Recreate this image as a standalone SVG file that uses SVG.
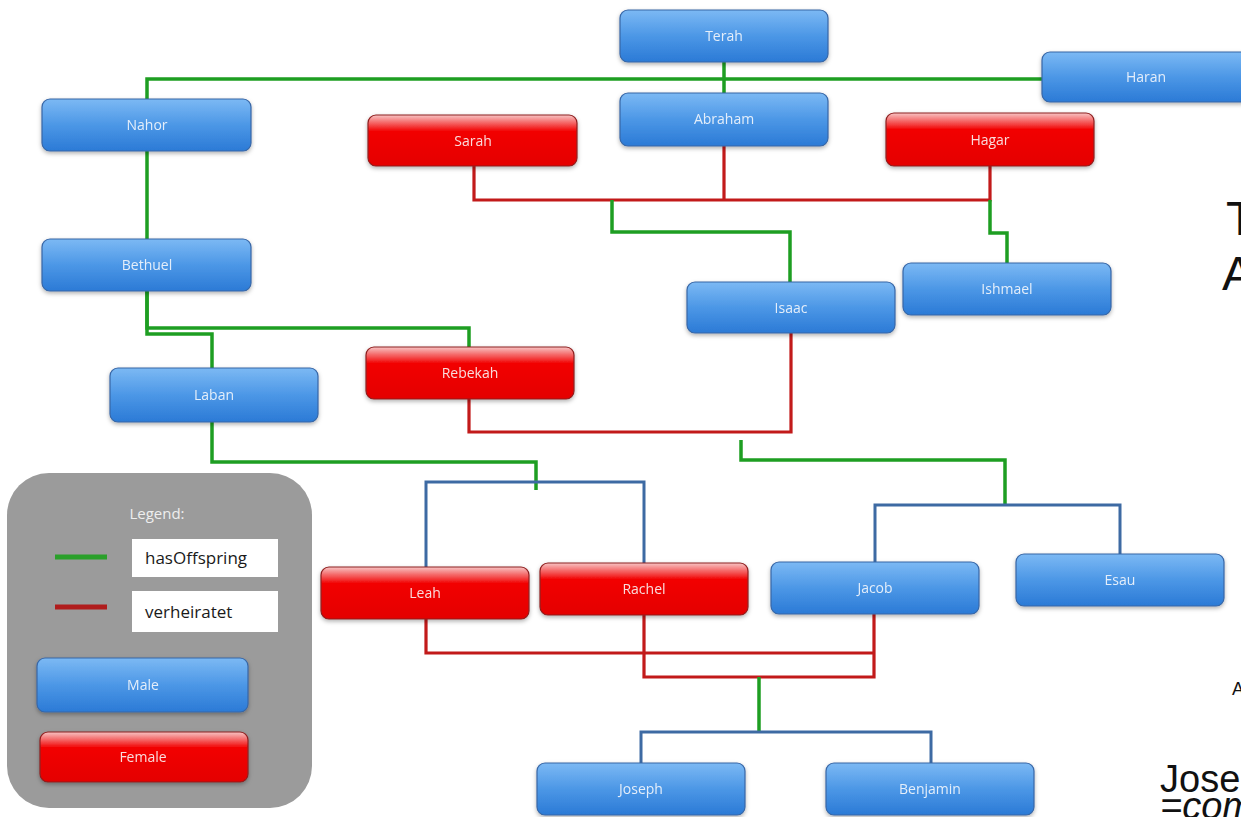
<svg xmlns="http://www.w3.org/2000/svg" width="1241" height="817" viewBox="0 0 1241 817">
<style>
.m rect{fill:url(#gb);stroke:#3766a6;stroke-width:1.2}
.f rect{fill:url(#gr);stroke:#8e1e1e;stroke-width:1.2}
.n{filter:url(#sh)}
.n text{font-family:"Open Sans","DejaVu Sans",sans-serif;font-size:14px;text-anchor:middle}
.m text{fill:#e4eefa}
.f text{fill:#f9dcdc}
.g{stroke:#1e9e22;stroke-width:3.5;fill:none}
.r{stroke:#c21a1a;stroke-width:3.2;fill:none}
.b{stroke:#3d6aa3;stroke-width:3;fill:none}
.big{font-family:"Liberation Sans",Arial,sans-serif;font-size:48px;fill:#111}
.lt{font-family:"Open Sans","DejaVu Sans",sans-serif;font-size:17px;fill:#1a1a1a}
</style>
<defs>
<linearGradient id="gb" x1="0" y1="0" x2="0" y2="1">
<stop offset="0" stop-color="#7cb9f4"/><stop offset="0.5" stop-color="#4c97e6"/><stop offset="1" stop-color="#2b7ad6"/>
</linearGradient>
<linearGradient id="gr" x1="0" y1="0" x2="0" y2="1">
<stop offset="0" stop-color="#f7c4c4"/><stop offset="0.12" stop-color="#f57a7a"/><stop offset="0.32" stop-color="#f20000"/><stop offset="1" stop-color="#e40000"/>
</linearGradient>
<filter id="sh" x="-10%" y="-20%" width="120%" height="160%">
<feDropShadow dx="0" dy="2" stdDeviation="2" flood-color="#000" flood-opacity="0.3"/>
</filter>
</defs>
<rect width="1241" height="817" fill="#ffffff"/>

<g id="connectors">
<path class="g" d="M147,99 V79 H1042 M724,62 V93 M147,151 V239"/>
<path class="r" d="M474,166 V200 H990 V166 M724,146 V200"/>
<path class="g" d="M612,200 V232 H790 V282"/>
<path class="g" d="M990,200 V233 H1007 V263"/>
<path class="g" d="M147,291 V328 H469 V347"/>
<path class="g" d="M147,291 V334 H212 V368"/>
<path class="r" d="M469,399 V432 H791 V333"/>
<path class="g" d="M741,440 V460 H1005 V505"/>
<path class="b" d="M875,562 V505 H1120 V554"/>
<path class="g" d="M212,422 V462 H536 V490"/>
<path class="b" d="M426,567 V482 H644 V563"/>
<path class="r" d="M426,619 V653 H874 M874,614 V677 H644 V615"/>
<path class="g" d="M759,677 V732"/>
<path class="b" d="M641,763 V732 H931 V763"/>
</g>

<g id="terah" class="n m"><rect x="620" y="10" width="208" height="52" rx="8"/><text x="724" y="41">Terah</text></g>
<g id="abraham" class="n m"><rect x="620" y="93" width="208" height="53" rx="8"/><text x="724" y="124">Abraham</text></g>
<g id="haran" class="n m"><rect x="1042" y="52" width="208" height="50" rx="8"/><text x="1146" y="82">Haran</text></g>
<g id="nahor" class="n m"><rect x="42" y="99" width="209" height="52" rx="8"/><text x="147" y="130">Nahor</text></g>
<g id="sarah" class="n f"><rect x="368" y="115" width="209" height="51" rx="8"/><text x="473" y="146">Sarah</text></g>
<g id="hagar" class="n f"><rect x="886" y="113" width="208" height="53" rx="8"/><text x="990" y="145">Hagar</text></g>
<g id="bethuel" class="n m"><rect x="42" y="239" width="209" height="52" rx="8"/><text x="147" y="270">Bethuel</text></g>
<g id="isaac" class="n m"><rect x="687" y="282" width="208" height="51" rx="8"/><text x="791" y="313">Isaac</text></g>
<g id="ishmael" class="n m"><rect x="903" y="263" width="208" height="52" rx="8"/><text x="1007" y="294">Ishmael</text></g>
<g id="rebekah" class="n f"><rect x="366" y="347" width="208" height="52" rx="8"/><text x="470" y="378">Rebekah</text></g>
<g id="laban" class="n m"><rect x="110" y="368" width="208" height="54" rx="8"/><text x="214" y="400">Laban</text></g>
<g id="leah" class="n f"><rect x="321" y="567" width="208" height="52" rx="8"/><text x="425" y="598">Leah</text></g>
<g id="rachel" class="n f"><rect x="540" y="563" width="208" height="52" rx="8"/><text x="644" y="594">Rachel</text></g>
<g id="jacob" class="n m"><rect x="771" y="562" width="208" height="52" rx="8"/><text x="875" y="593">Jacob</text></g>
<g id="esau" class="n m"><rect x="1016" y="554" width="208" height="52" rx="8"/><text x="1120" y="585">Esau</text></g>
<g id="joseph" class="n m"><rect x="537" y="763" width="208" height="52" rx="8"/><text x="641" y="794">Joseph</text></g>
<g id="benjamin" class="n m"><rect x="826" y="763" width="208" height="52" rx="8"/><text x="930" y="794">Benjamin</text></g>

<g id="legend">
<rect x="7" y="473" width="305" height="335" rx="42" fill="#9b9b9b"/>
<text x="157" y="519" font-family="Open Sans, DejaVu Sans, sans-serif" font-size="15" fill="#eeeeee" text-anchor="middle">Legend:</text>
<line x1="55" y1="557" x2="107" y2="557" stroke="#2aa02a" stroke-width="5"/>
<line x1="55" y1="607" x2="107" y2="607" stroke="#b01c1c" stroke-width="5"/>
<rect x="132" y="539" width="146" height="38" fill="#ffffff"/>
<rect x="132" y="591" width="146" height="41" fill="#ffffff"/>
<text class="lt" x="145" y="564">hasOffspring</text>
<text class="lt" x="145" y="618">verheiratet</text>
<g id="legend-male" class="n m"><rect x="37" y="658" width="211" height="54" rx="8"/><text x="143" y="690">Male</text></g>
<g id="legend-female" class="n f"><rect x="40" y="732" width="208" height="50" rx="8"/><text x="143" y="762">Female</text></g>
</g>

<g id="side-text">
<text class="big" x="1226" y="235">T</text>
<text class="big" x="1222" y="290">A</text>
<text x="1232" y="695" font-family="Liberation Sans, Arial, sans-serif" font-size="18" fill="#111">A</text>
<text x="1160" y="792" font-family="Liberation Sans, Arial, sans-serif" font-size="38" fill="#111">Jose</text>
<text x="1160" y="819" font-family="Liberation Sans, Arial, sans-serif" font-size="38" font-style="italic" fill="#111">=com</text>
</g>
</svg>
